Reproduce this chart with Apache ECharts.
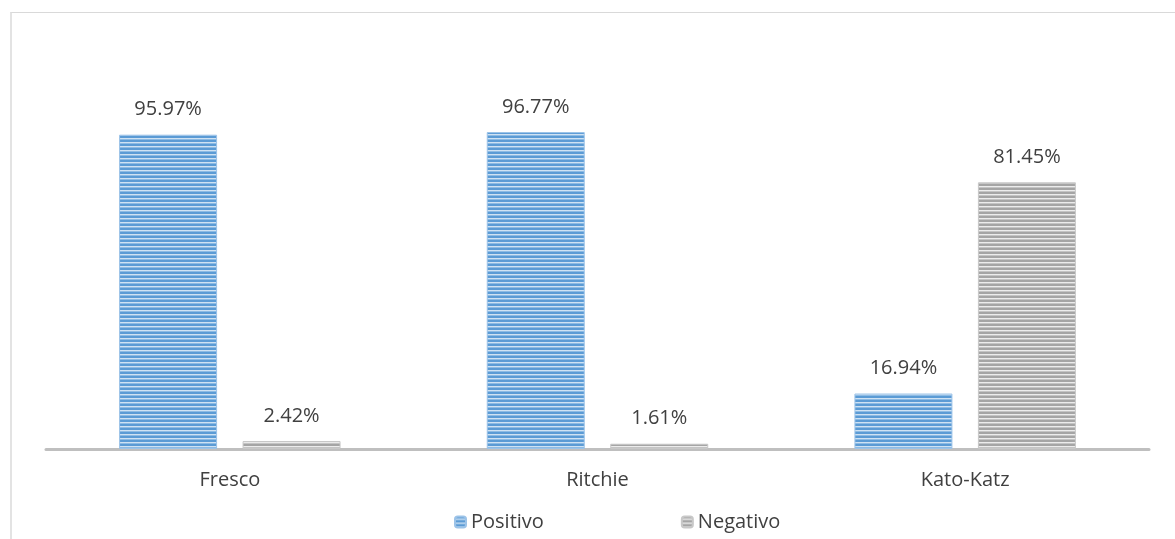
<!DOCTYPE html>
<html>
<head>
<meta charset="utf-8">
<script src="https://cdn.jsdelivr.net/npm/echarts@6/dist/echarts.min.js"></script>
<style>
  html, body { margin: 0; padding: 0; background: #fff; }
  #frame { position: absolute; left: 10px; top: 12px; width: 1200px; height: 600px;
           border-top: 1px solid #d9d9d9; border-left: 2px solid #e3e3e3; }
  #chart { position: absolute; left: 0; top: 0; width: 1175px; height: 539px; }
</style>
</head>
<body>
<div id="frame"></div>
<div id="chart"></div>
<script>
const categories = ['Fresco', 'Ritchie', 'Kato-Katz'];
const positivo = [95.97, 96.77, 16.94];
const negativo = [2.42, 1.61, 81.45];

// horizontal stripe fill, like the original bars
function stripes(dark, mid, light) {
  const c = document.createElement('canvas');
  c.width = 4;
  c.height = 4;
  const ctx = c.getContext('2d');
  ctx.fillStyle = dark; ctx.fillRect(0, 0, 4, 2);
  ctx.fillStyle = light; ctx.fillRect(0, 2, 4, 1);
  ctx.fillStyle = mid; ctx.fillRect(0, 3, 4, 1);
  return { image: c, repeat: 'repeat' };
}

const bluePattern = stripes('#5b9bd5', '#8dbbe4', '#cfe2f3');
const grayPattern = stripes('#a5a5a5', '#c4c4c4', '#ececec');

const labelStyle = {
  show: true,
  position: 'top',
  distance: 15,
  color: '#404040',
  fontSize: 20,
  fontFamily: 'Open Sans',
  formatter: (p) => p.value.toFixed(2) + '%',
};

const chart = echarts.init(document.getElementById('chart'));
chart.setOption({
  animation: false,
  grid: { left: 46, right: 26, top: 121.5, bottom: 90 },
  legend: {
    bottom: 2,
    left: 449,
    itemWidth: 11,
    itemHeight: 11,
    itemGap: 137,
    textStyle: { color: '#404040', fontSize: 20, fontFamily: 'Open Sans' },
    data: ['Positivo', 'Negativo'],
  },
  xAxis: {
    type: 'category',
    data: categories,
    axisLine: { lineStyle: { color: '#bfbfbf', width: 3 } },
    axisTick: { show: false },
    axisLabel: { color: '#404040', fontSize: 20, fontFamily: 'Open Sans', margin: 21 },
  },
  yAxis: {
    type: 'value',
    min: 0,
    max: 100,
    show: false,
  },
  series: [
    {
      name: 'Positivo',
      type: 'bar',
      data: positivo,
      barWidth: 98,
      barGap: '26%',
      itemStyle: { color: bluePattern, borderColor: '#9cc3e8', borderWidth: 1 },
      label: labelStyle,
    },
    {
      name: 'Negativo',
      type: 'bar',
      data: negativo,
      barWidth: 98,
      itemStyle: { color: grayPattern, borderColor: '#c8c8c8', borderWidth: 1 },
      label: labelStyle,
    },
  ],
});
</script>
</body>
</html>
